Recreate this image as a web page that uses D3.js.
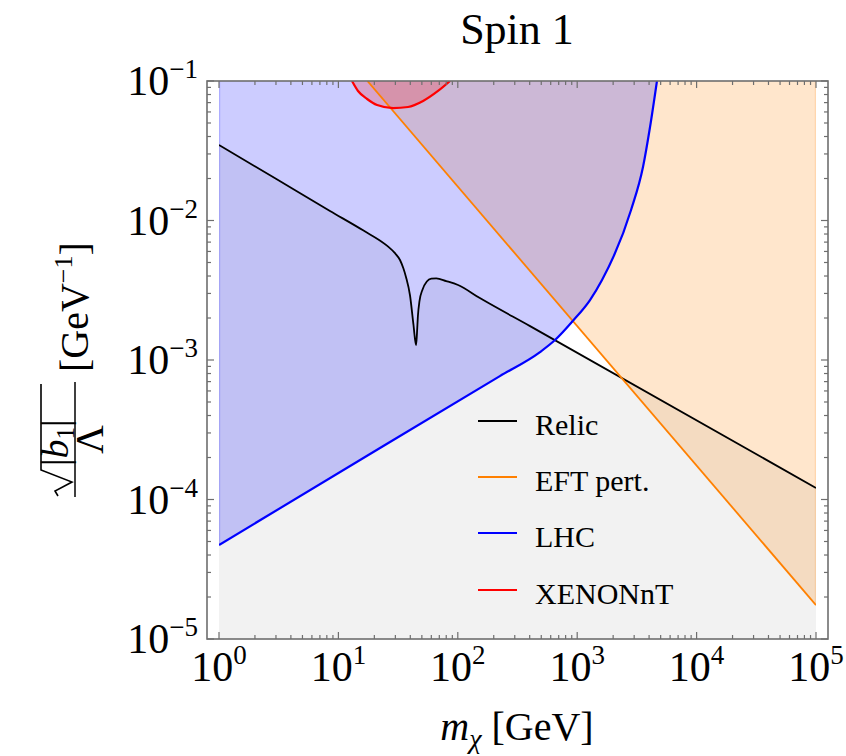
<!DOCTYPE html>
<html>
<head>
<meta charset="utf-8">
<script src="https://cdn.jsdelivr.net/npm/d3@7"></script>
<style>
  body { margin: 0; background: #fff; }
  svg { display: block; }
  text { font-family: "Liberation Serif", "DejaVu Serif", serif; }
</style>
</head>
<body>
<div id="chart"></div>
<script>
// data (mass in GeV, coupling sqrt|b1|/Lambda in GeV^-1)
const relicMass = [1, 3, 8.5, 16.1, 25.5, 29.5, 32.8, 35, 36.8, 39.8, 42.5, 44.7, 45.5, 46.3, 47.8, 50.5, 55, 60, 66, 80, 100.5, 153, 403, 100000];
const relicCoupling = [0.0348, 0.0199, 0.0117, 0.00850, 0.00660, 0.00588, 0.00521, 0.00455, 0.00394, 0.00290, 0.00180, 0.00128, 0.00155, 0.00205, 0.00265, 0.00318, 0.00365, 0.00383, 0.00385, 0.00368, 0.00345, 0.00278, 0.00175, 0.000121];

const lhcMass = [1, 22.3, 225, 488, 652, 922, 1280, 1614, 2825, 3557, 4074, 4656];
const lhcCoupling = [4.72e-5, 2.34e-4, 7.67e-4, 1.14e-3, 1.39e-3, 1.91e-3, 2.69e-3, 3.74e-3, 0.0119, 0.0242, 0.0468, 0.1];

const eftMass = [17.5, 100000];
const eftCoupling = [0.1, 1.75e-5];

const xenonMass = [13.0, 14.6, 17.4, 21.1, 28.7, 38.3, 51.2, 68.3, 86.1];
const xenonCoupling = [0.1, 0.0848, 0.0743, 0.0673, 0.0640, 0.0651, 0.0719, 0.0848, 0.1];

const xTickExps = [0, 1, 2, 3, 4, 5];
const yTickExps = [-1, -2, -3, -4, -5];

const legendLabels = ["Relic", "EFT pert.", "LHC", "XENONnT"];
const legendColors = ["#000000", "#ff8000", "#0000ff", "#ff0000"];

const W = 846, H = 756;
const frame = { left: 207, right: 828, top: 81, bottom: 639 };

const svg = d3.select("#chart").append("svg")
  .attr("width", W).attr("height", H);

const x = d3.scaleLog().domain([1, 1e5]).range([219, 816]);
const y = d3.scaleLog().domain([1e-5, 1e-1]).range([frame.bottom, frame.top]);

const zip = (ms, cs) => ms.map((m, i) => [m, cs[i]]);
const relic = zip(relicMass, relicCoupling);
const lhc = zip(lhcMass, lhcCoupling);
const eft = zip(eftMass, eftCoupling);
const xenon = zip(xenonMass, xenonCoupling);

const line = d3.line().x(d => x(d[0])).y(d => y(d[1]));
const smooth = d3.line().x(d => x(d[0])).y(d => y(d[1])).curve(d3.curveMonotoneX);
// append straight corner points to a curve path and close it
const closeWith = (path, pts) => path + pts.map(p => `L${x(p[0])},${y(p[1])}`).join("") + "Z";

svg.append("clipPath").attr("id", "plotclip")
  .append("rect")
  .attr("x", x(1)).attr("y", y(1e-1))
  .attr("width", x(1e5) - x(1)).attr("height", y(1e-5) - y(1e-1));

const plot = svg.append("g").attr("clip-path", "url(#plotclip)");

// filled regions
plot.append("path")
  .attr("d", closeWith(smooth(relic), [[1e5, 1e-5], [1, 1e-5]]))
  .attr("fill", "#808080").attr("fill-opacity", 0.1);

plot.append("path")
  .attr("d", closeWith(line(eft), [[1e5, 1e-1]]))
  .attr("fill", "#ff8000").attr("fill-opacity", 0.2);

plot.append("path")
  .attr("d", closeWith(smooth(lhc), [[1, 1e-1]]))
  .attr("fill", "#0000ff").attr("fill-opacity", 0.2);

plot.append("path")
  .attr("d", smooth(xenon) + "Z")
  .attr("fill", "#ff0000").attr("fill-opacity", 0.2);

// faint fill edges at the data range limits, as in the original
plot.append("line").attr("x1", x(1) + 0.5).attr("x2", x(1) + 0.5)
  .attr("y1", y(lhcCoupling[0])).attr("y2", y(1e-1))
  .attr("stroke", "#0000ff").attr("stroke-opacity", 0.15).attr("stroke-width", 1.5);
plot.append("line").attr("x1", x(1e5) - 0.5).attr("x2", x(1e5) - 0.5)
  .attr("y1", y(eftCoupling[1])).attr("y2", y(1e-1))
  .attr("stroke", "#ff8000").attr("stroke-opacity", 0.15).attr("stroke-width", 1.5);

// curves
plot.append("path").attr("d", smooth(relic))
  .attr("fill", "none").attr("stroke", "#000").attr("stroke-width", 1.8);
plot.append("path").attr("d", line(eft))
  .attr("fill", "none").attr("stroke", "#ff8000").attr("stroke-width", 1.8);
plot.append("path").attr("d", smooth(lhc))
  .attr("fill", "none").attr("stroke", "#0000ff").attr("stroke-width", 2.2);
plot.append("path").attr("d", smooth(xenon))
  .attr("fill", "none").attr("stroke", "#ff0000").attr("stroke-width", 2.2);

// frame and ticks
const tickColor = "#6e6e6e";
const xMajor = xTickExps.map(e => Math.pow(10, e));
const yMajor = yTickExps.map(e => Math.pow(10, e));
const isMajor = v => Math.abs(Math.log10(v) - Math.round(Math.log10(v))) < 1e-9;
const xMinor = x.ticks().filter(v => !isMajor(v));
const yMinor = y.ticks().filter(v => !isMajor(v));

const ticks = svg.append("g").attr("stroke", tickColor).attr("stroke-width", 1.2);
function vTicks(vals, len) {
  vals.forEach(v => {
    ticks.append("line").attr("x1", x(v)).attr("x2", x(v))
      .attr("y1", frame.bottom).attr("y2", frame.bottom - len);
    ticks.append("line").attr("x1", x(v)).attr("x2", x(v))
      .attr("y1", frame.top).attr("y2", frame.top + len);
  });
}
function hTicks(vals, len) {
  vals.forEach(v => {
    ticks.append("line").attr("y1", y(v)).attr("y2", y(v))
      .attr("x1", frame.left).attr("x2", frame.left + len);
    ticks.append("line").attr("y1", y(v)).attr("y2", y(v))
      .attr("x1", frame.right).attr("x2", frame.right - len);
  });
}
vTicks(xMajor, 7);
vTicks(xMinor, 4);
hTicks(yMajor, 7);
hTicks(yMinor, 4);

svg.append("rect")
  .attr("x", frame.left).attr("y", frame.top)
  .attr("width", frame.right - frame.left).attr("height", frame.bottom - frame.top)
  .attr("fill", "none").attr("stroke", tickColor).attr("stroke-width", 1.6);

// tick labels
const fs = 42, supFs = 27;
xTickExps.forEach((e, i) => {
  const t = svg.append("text")
    .attr("x", x(xMajor[i])).attr("y", 681)
    .attr("text-anchor", "middle").attr("font-size", fs);
  t.append("tspan").text("10");
  t.append("tspan").attr("font-size", supFs).attr("dy", -17).text(e);
});
yTickExps.forEach((e, i) => {
  const t = svg.append("text")
    .attr("x", 198).attr("y", y(yMajor[i]) + 14)
    .attr("text-anchor", "end").attr("font-size", fs);
  t.append("tspan").text("10");
  t.append("tspan").attr("font-size", supFs).attr("dy", -17).text("\u2212" + Math.abs(e));
});

// title
svg.append("text").attr("x", 517).attr("y", 44)
  .attr("text-anchor", "middle").attr("font-size", 44).text("Spin 1");

// x axis title
const xt = svg.append("text").attr("x", 517).attr("y", 740)
  .attr("text-anchor", "middle").attr("font-size", 40);
xt.append("tspan").attr("font-style", "italic").text("m");
xt.append("tspan").attr("font-style", "italic").attr("font-size", 28).attr("dy", 8).text("\u03c7");
xt.append("tspan").attr("dy", -8).text(" [GeV]");

// y axis title (rotated)
const yt = svg.append("g").attr("transform", "translate(75,0) rotate(-90)");
yt.append("line").attr("x1", -497).attr("x2", -382).attr("y1", 0).attr("y2", 0)
  .attr("stroke", "#000").attr("stroke-width", 1.5);
yt.append("text").attr("x", -439.5).attr("y", 28)
  .attr("text-anchor", "middle").attr("font-size", 40).text("\u039b");
yt.append("path")
  .attr("d", "M-496,-17 L-491,-20 L-482,-3 L-470,-34 L-384,-34")
  .attr("fill", "none").attr("stroke", "#000").attr("stroke-width", 1.6);
const num = yt.append("text").attr("x", -466).attr("y", -7).attr("font-size", 38);
num.append("tspan").text("|");
num.append("tspan").attr("font-style", "italic").text("b");
num.append("tspan").attr("font-size", 25).attr("dy", 6).text("1");
num.append("tspan").attr("dy", -6).text("|");
const br = yt.append("text").attr("x", -372).attr("y", 13).attr("font-size", 40);
br.append("tspan").text("[GeV");
br.append("tspan").attr("font-size", 26).attr("dy", -16).text("\u22121");
br.append("tspan").attr("dy", 16).text("]");

// legend
const legendY = [421, 477, 533, 590];
legendLabels.forEach((lab, i) => {
  svg.append("line").attr("x1", 478).attr("x2", 517)
    .attr("y1", legendY[i]).attr("y2", legendY[i])
    .attr("stroke", legendColors[i]).attr("stroke-width", 2.2);
  svg.append("text").attr("x", 535).attr("y", legendY[i] + 14)
    .attr("font-size", 30).text(lab);
});
</script>
</body>
</html>
